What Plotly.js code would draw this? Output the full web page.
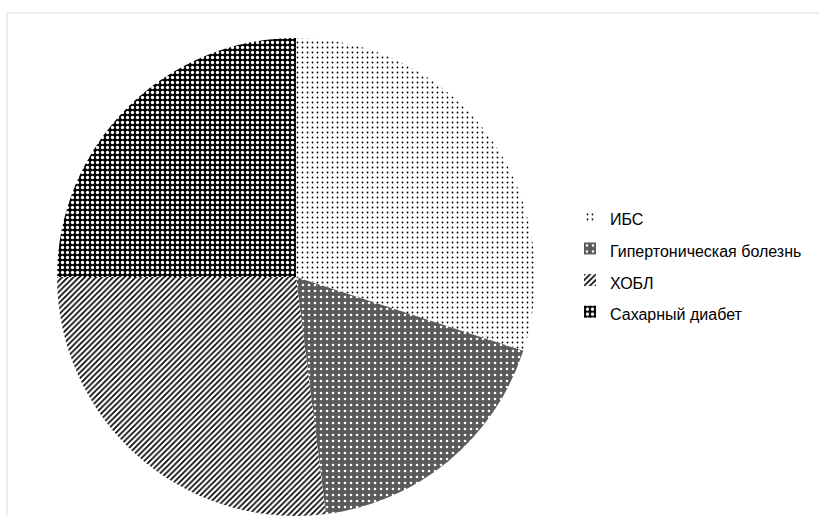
<!DOCTYPE html>
<html>
<head>
<meta charset="utf-8">
<script src="https://cdn.plot.ly/plotly-3.0.1.min.js"></script>
<style>html,body{margin:0;padding:0;background:#fff;}#chart{width:819px;height:516px;}</style>
</head>
<body>
<div id="chart"></div>
<script>
const categories = ["ИБС", "Гипертоническая болезнь", "ХОБЛ", "Сахарный диабет"];
const values = [30, 18, 27, 25];

const patternShapes = [".", ".", "/", "."];
const patternBg = ["#ffffff", "#5a5a5a", "#ffffff", "#000000"];
const patternFg = ["#000000", "#ffffff", "#000000", "#ffffff"];
const patternSize = [5, 6, 4, 5];
const patternSolidity = [0.1, 0.15, 0.4, 0.35];

const trace = {
  type: "pie",
  labels: categories.map(c => '<span style="font-size:16px">' + c + '</span>'),
  values: values,
  sort: false,
  direction: "clockwise",
  rotation: 0,
  textinfo: "none",
  hoverinfo: "label+value",
  domain: {x: [57/819, 535/819], y: [0, 1]},
  marker: {
    colors: patternBg,
    line: {width: 0},
    pattern: {
      shape: patternShapes,
      bgcolor: patternBg,
      fgcolor: patternFg,
      size: patternSize,
      solidity: patternSolidity
    }
  }
};

const layout = {
  width: 819,
  height: 516,
  margin: {l: 0, r: 0, t: 38, b: 0},
  paper_bgcolor: "#ffffff",
  showlegend: true,
  legend: {
    x: 570/819,
    xanchor: "left",
    y: 0.526,
    yanchor: "middle",
    font: {family: "Liberation Sans, Arial, sans-serif", size: 22, color: "#000000"},
    itemwidth: 30,
    tracegroupgap: 0,
    bgcolor: "rgba(0,0,0,0)"
  },
  shapes: [{
    type: "rect", xref: "paper", yref: "paper",
    x0: 7/819, x1: 1.2, y0: -0.2, y1: (516-13)/478,
    line: {color: "#d9d9d9", width: 1}, fillcolor: "rgba(0,0,0,0)", layer: "below"
  }]
};

Plotly.newPlot("chart", [trace], layout, {displayModeBar: false, staticPlot: true});
</script>
</body>
</html>
